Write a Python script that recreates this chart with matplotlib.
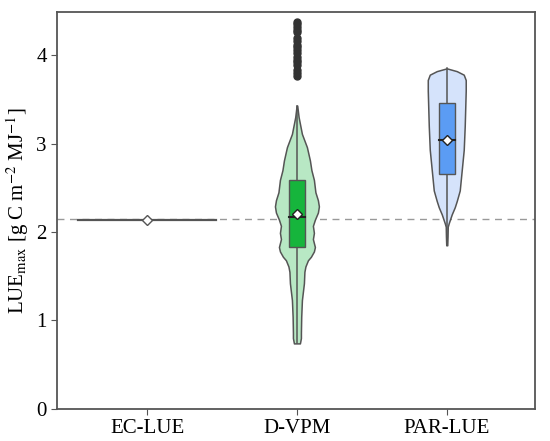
import numpy as np
import matplotlib.pyplot as plt

plt.rcParams['font.family'] = ['Liberation Serif', 'DejaVu Serif']
plt.rcParams['mathtext.fontset'] = 'stix'

# categories
models = ['EC-LUE', 'D-VPM', 'PAR-LUE']
ref_line = 2.15

# EC-LUE is a single value
ec_value = 2.14

# D-VPM violin profile (value, relative half-width)
dvpm_levels = [0.74, 0.80, 0.86, 1.04, 1.23, 1.42, 1.55, 1.61, 1.68, 1.72, 1.78, 1.83,
               1.92, 1.99, 2.07, 2.14, 2.22, 2.29, 2.36, 2.45, 2.59, 2.70, 2.81,
               2.96, 3.11, 3.30, 3.43]
dvpm_density = [3.0, 4.0, 4.0, 4.3, 5.0, 7.0, 7.5, 8.5, 11.0, 14.0, 17.0, 18.0,
                16.0, 17.0, 16.0, 18.0, 21.0, 22.0, 21.0, 18.5, 17.0, 14.5, 13.0,
                10.0, 5.0, 1.7, 0.3]
dvpm_box = [1.83, 2.17, 2.59]       # q1, median, q3
dvpm_whisk = [0.74, 3.43]
dvpm_mean = 2.20
dvpm_outliers = [3.77, 3.80, 3.83, 3.89, 3.92, 3.95, 3.98, 4.02, 4.06, 4.09,
                 4.12, 4.16, 4.20, 4.26, 4.29, 4.32, 4.35, 4.38]

# PAR-LUE violin profile
par_levels = [1.85, 1.95, 2.06, 2.10, 2.20, 2.28, 2.35, 2.47, 2.70, 2.93, 3.20,
              3.40, 3.60, 3.72, 3.78, 3.82, 3.85]
par_density = [0.5, 0.8, 1.0, 2.0, 5.0, 8.0, 10.0, 13.0, 15.0, 17.0, 18.0,
               18.5, 19.0, 19.0, 17.0, 10.0, 0.5]
par_box = [2.66, 3.04, 3.46]
par_whisk = [1.85, 3.85]
par_mean = 3.04

edge = '#555555'
fig, ax = plt.subplots(figsize=(5.5, 4.41), dpi=100)
fig.subplots_adjust(left=0.104, right=0.973, top=0.973, bottom=0.073)

ax.axhline(ref_line, color='#999999', lw=1.0, ls=(0, (5, 4)), zorder=1)

# EC-LUE: degenerate violin -> flat line
ax.plot([-0.46, 0.46], [ec_value, ec_value], color=edge, lw=1.6, zorder=2)
ax.plot(0, ec_value, marker='D', ms=5.5, mfc='white', mec=edge, mew=1.0, zorder=4)


def draw_violin(pos, levels, dens, fill, box, whisk, mean, boxcolor, outl=None):
    lv = np.array(levels)
    hw = np.array(dens) / 150.0
    ax.fill_betweenx(lv, pos - hw, pos + hw, facecolor=fill, edgecolor=edge,
                     lw=1.1, zorder=2)
    ax.plot([pos, pos], whisk, color=edge, lw=1.1, zorder=3)
    bw = 0.055
    ax.add_patch(plt.Rectangle((pos - bw, box[0]), 2 * bw, box[2] - box[0],
                               facecolor=boxcolor, edgecolor=edge, lw=1.0, zorder=3))
    ax.plot([pos - bw, pos + bw], [box[1], box[1]], color='#222222', lw=1.5, zorder=3)
    ax.plot(pos, mean, marker='D', ms=5.5, mfc='white', mec='#222222', mew=1.0, zorder=4)
    if outl is not None:
        ax.plot([pos] * len(outl), outl, 'o', ms=5, color='#333333', zorder=3)


draw_violin(1, dvpm_levels, dvpm_density, '#b8e8c4', dvpm_box, dvpm_whisk,
            dvpm_mean, '#16b53c', dvpm_outliers)
draw_violin(2, par_levels, par_density, '#d5e3fb', par_box, par_whisk,
            par_mean, '#5b9cf4')

ax.set_xlim(-0.6, 2.59)
ax.set_ylim(0, 4.49)
ax.set_xticks(range(len(models)))
ax.set_xticklabels(models)
ax.set_yticks([0, 1, 2, 3, 4])
ax.tick_params(labelsize=15, length=4, color=edge)
ax.set_ylabel(r'LUE$_{\mathrm{max}}$ [g C m$^{-2}$ MJ$^{-1}$]', fontsize=15)
for s in ax.spines.values():
    s.set_color(edge)
    s.set_linewidth(1.3)

fig.savefig('out.png', dpi=100)
